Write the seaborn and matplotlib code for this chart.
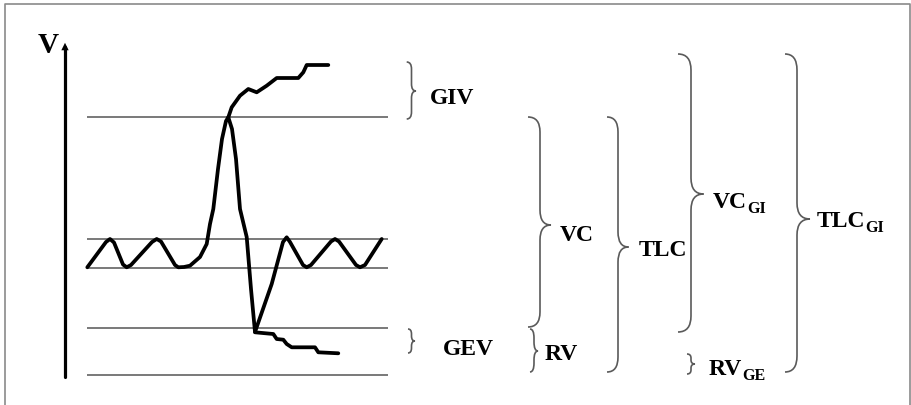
import numpy as np
import pandas as pd
import seaborn as sns
import matplotlib
matplotlib.use("Agg")
import matplotlib.pyplot as plt
from matplotlib.path import Path
from matplotlib.patches import PathPatch

# ---------------- data (diagram units: x = time, y = volume level, drawn top-down) ----------
main_t = [87.3, 106, 110, 114, 123, 126.7, 131, 152, 156.7, 161, 175, 178.3, 184, 190, 200,
          206.7, 210, 213.3, 218, 222, 226, 228.3, 232, 236, 240, 246.7, 251, 255, 271.7,
          283, 286.7, 290, 303, 306.7, 311, 331, 335, 339, 356, 360, 365, 381.7]
main_v = [268.3, 243, 240, 243.5, 265.5, 268.3, 266, 243, 240, 242.5, 266, 268.3, 268, 266.7, 258,
          245, 225, 210, 170, 140, 122, 118.3, 130, 160, 210, 238, 290, 333, 285,
          243, 238.3, 243, 266, 268.3, 266, 242.5, 240, 242.5, 266, 268.3, 266, 240]

gi_t = [228.3, 231.7, 240, 248.3, 256.7, 266.7, 276.7, 298.3, 303.3, 306.7, 328.3]
gi_v = [118.3, 108.3, 96.7, 90, 93.3, 86.7, 79, 79, 73.3, 66, 66]

ge_t = [255, 273.3, 276.7, 283.3, 286.7, 291.7, 315, 318.3, 338.3]
ge_v = [333.3, 335, 340, 340.7, 345, 348.3, 348.3, 353.3, 354.3]

ref_levels = [118, 240, 269, 329, 376]

labels = ["GIV", "GEV", "VC", "RV", "TLC", "VC", "RV", "TLC"]
subs = ["", "", "", "", "", "GI", "GE", "GI"]

# ---------------- figure ----------------
sns.set_theme(style="white")
plt.rcParams["font.family"] = ["Liberation Serif", "DejaVu Serif"]
plt.rcParams["text.color"] = "black"

fig = plt.figure(figsize=(9.12, 4.06), dpi=100)
ax = fig.add_axes([0, 0, 1, 1])

# frame
ax.plot([5, 5, 910.5, 910.5], [410, 5, 5, 410], color="#8a8a8a", lw=1.2, solid_joinstyle="miter")

# reference levels
ax.hlines(ref_levels, 87, 388, color="#6e6e6e", lw=1.3)

# volume axis with arrow
ax.plot([65, 65], [378, 48], color="black", lw=2.3, solid_capstyle="butt")
ax.annotate("", xy=(65, 41), xytext=(65, 52),
            arrowprops=dict(arrowstyle="-|>,head_width=0.22,head_length=0.45",
                            color="black", lw=0))
ax.text(38, 53, "V", fontsize=21, fontweight="bold", ha="left", va="baseline", color="black")

# traces
dfs = [pd.DataFrame({"t": main_t, "v": main_v}),
       pd.DataFrame({"t": gi_t, "v": gi_v}),
       pd.DataFrame({"t": ge_t, "v": ge_v})]
for d in dfs:
    sns.lineplot(data=d, x="t", y="v", sort=False, estimator=None, color="black",
                 lw=2.7, ax=ax, legend=False)
for l in ax.get_lines():
    l.set_solid_joinstyle("round")
    l.set_solid_capstyle("round")
ax.set_xlim(0, 912)
ax.set_ylim(406, 0)
ax.axis("off")


def brace(xl, xline, xtip, ytop, ymid, ybot, r):
    verts = [(xl, ytop), (xline, ytop), (xline, ytop + r),
             (xline, ymid - r), (xline, ymid), (xtip, ymid),
             (xline, ymid), (xline, ymid + r),
             (xline, ybot - r), (xline, ybot), (xl, ybot)]
    codes = [Path.MOVETO, Path.CURVE3, Path.CURVE3,
             Path.LINETO, Path.CURVE3, Path.CURVE3,
             Path.CURVE3, Path.CURVE3,
             Path.LINETO, Path.CURVE3, Path.CURVE3]
    ax.add_patch(PathPatch(Path(verts, codes), fill=False, edgecolor="#5a5a5a", lw=1.2))


braces = [
    (406.7, 411.5, 416, 63, 92, 120, 7),      # GIV
    (408, 411.5, 415, 330, 342, 354, 5),      # GEV
    (528, 540, 551, 118, 226, 328, 15),       # VC
    (530, 534, 538, 330, 352, 373, 9),        # RV
    (607, 618, 628.5, 118, 248, 373, 15),     # TLC
    (678, 691, 703.5, 55, 195, 333, 16),      # VC_GI
    (687, 691, 695, 355, 365, 375, 4),        # RV_GE
    (785, 797, 810, 55, 220, 373, 16),        # TLC_GI
]
for b in braces:
    brace(*b)

label_pos = [(430, 103.5), (443, 355), (560, 241.5), (545, 360), (639, 256.5),
             (713, 208.3), (709, 375.5), (816.5, 226.7)]
texts = []
for lab, sub, (x, y) in zip(labels, subs, label_pos):
    t = ax.text(x, y, lab, fontsize=17, fontweight="bold", ha="left", va="baseline",
                color="black")
    texts.append((t, sub, y))

fig.canvas.draw()
r = fig.canvas.get_renderer()
inv = ax.transData.inverted()
for t, sub, y in texts:
    if not sub:
        continue
    bb = t.get_window_extent(renderer=r)
    x1 = inv.transform((bb.x1, bb.y0))[0]
    ax.text(x1 + 0.5, y + 5, sub, fontsize=11.5, fontweight="bold", ha="left",
            va="baseline", color="black")

fig.savefig("out.png", dpi=100)
